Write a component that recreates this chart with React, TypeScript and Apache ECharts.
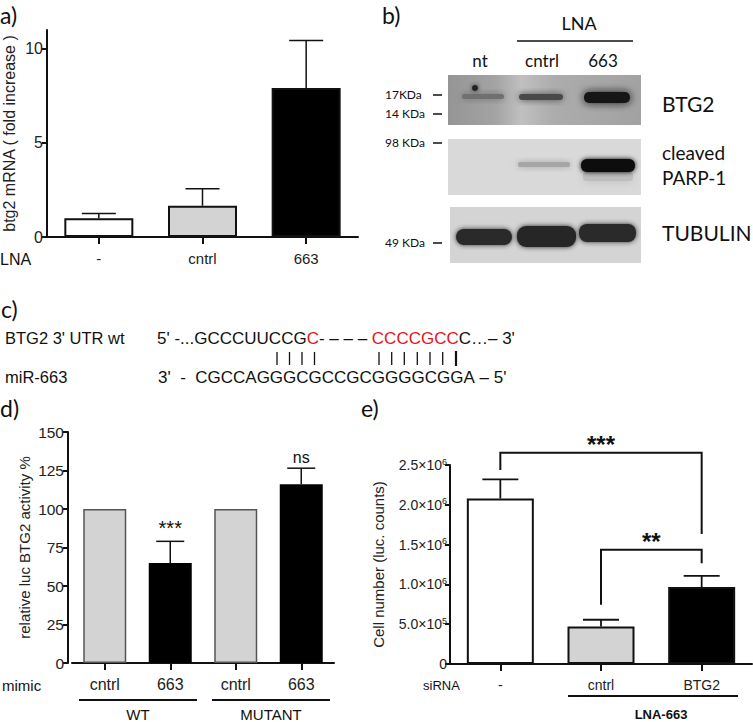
import React, { useEffect, useRef } from "react";
import * as echarts from "echarts";

// ---------- Panel a) ----------
const aCategories = ["-", "cntrl", "663"];
const aMeans = [1.0, 1.66, 7.92];
const aErrTop = [1.25, 2.56, 10.44];
const aYTicks = [0, 5, 10];

// ---------- Panel d) ----------
const dCategories = ["cntrl", "663", "cntrl", "663"];
const dMeans = [100, 65, 100, 116];
const dErrTop: (number | null)[] = [null, 79, null, 126.5];
const dSig = ["", "***", "", "ns"];
const dGroups = ["WT", "MUTANT"];

// ---------- Panel e) ----------
const eCategories = ["-", "cntrl", "BTG2"];
const eMeans = [2.08e6, 0.472e6, 0.966e6];
const eErrTop = [2.32e6, 0.556e6, 1.108e6];
// [fromIndex, toIndex, bracketTop, leftFoot, rightFoot]
const eBrackets = [
  [0, 2, 2.654e6, 2.437e6, 1.634e6],
  [1, 2, 1.434e6, 0.744e6, 1.267e6],
];
const eBracketLabels = ["***", "**"];

// ---------- Panel b) / c) texts ----------
const bLanes = ["nt", "cntrl", "663"];
const bMarkers = ["17KDa", "14 KDa", "98 KDa", "49 KDa"];
const bTargets = ["BTG2", "cleaved", "PARP-1", "TUBULIN"];
const cUtrLabel = "BTG2 3' UTR wt";
const cMirLabel = "miR-663";
const cUtrParts = ["5' -...GCCCUUCCG", "C", "- – – – ", "CCCCGCC", "C…– 3'"];
const cMirSeq = "3'\u00a0\u00a0-\u00a0\u00a0CGCCAGGGCGCCGCGGGGCGGA\u00a0–\u00a05'";

const PRISM = "Liberation Sans, Arial, sans-serif";
const CAL = "Lato, Open Sans, sans-serif";
const AX = "#111";

const aColors = ["#ffffff", "#d3d3d3", "#000000"];
const dColors = ["#d3d3d3", "#000000", "#d3d3d3", "#000000"];
const eColors = ["#ffffff", "#d3d3d3", "#000000"];

function errRender(tops: (number | null)[], capHalf: number, lw: number, sig?: string[], sigFont?: number[]) {
  return (params: any, api: any) => {
    const i = api.value(0);
    const t = tops[i];
    const children: any[] = [];
    if (t != null) {
      const p0 = api.coord([i, api.value(1)]);
      const p1 = api.coord([i, t]);
      children.push({ type: "line", shape: { x1: p0[0], y1: p0[1], x2: p1[0], y2: p1[1] }, style: { stroke: AX, lineWidth: lw } });
      children.push({ type: "line", shape: { x1: p1[0] - capHalf, y1: p1[1], x2: p1[0] + capHalf, y2: p1[1] }, style: { stroke: AX, lineWidth: lw } });
      if (sig && sig[i]) {
        children.push({
          type: "text",
          x: p1[0],
          y: p1[1] - 3,
          style: { text: sig[i], fontFamily: PRISM, fontSize: sigFont ? sigFont[i] : 15, fill: "#111", align: "center", verticalAlign: "bottom" },
        });
      }
    }
    return { type: "group", children };
  };
}

function eFmt(v: number) {
  if (v === 0) return "0";
  const ex = Math.floor(Math.log10(v) + 1e-9);
  const m = v / Math.pow(10, ex);
  return `{b|${m.toFixed(1)}×10}{s|${ex}}`;
}

export default function App() {
  const ref = useRef<HTMLDivElement>(null);
  useEffect(() => {
    if (!ref.current) return;
    const chart = echarts.init(ref.current, undefined, { renderer: "svg" });

    const yBase = (extra: any) => ({
      type: "value",
      splitLine: { show: false },
      axisLine: { show: true, lineStyle: { color: AX, width: 2 } },
      axisTick: { show: true, length: 5, lineStyle: { color: AX, width: 2 } },
      nameLocation: "middle",
      ...extra,
    });
    const xBase = (data: string[], fontSize: number, margin: number) => ({
      type: "category",
      data,
      axisLine: { show: true, lineStyle: { color: AX, width: 2 } },
      axisTick: { show: true, alignWithLabel: true, length: 7, lineStyle: { color: AX, width: 2 } },
      axisLabel: { fontFamily: PRISM, fontSize, color: "#222", margin },
    });

    const graphic: any[] = [];
    const txt = (text: string, x: number, y: number, fontSize: number, fontFamily: string, align = "left", extra: any = {}) =>
      graphic.push({ type: "text", x, y, style: { text, fontSize, fontFamily, fill: "#111", align, verticalAlign: "middle", ...extra } });
    const ln = (x1: number, y1: number, x2: number, y2: number, w = 2) =>
      graphic.push({ type: "line", shape: { x1, y1, x2, y2 }, style: { stroke: AX, lineWidth: w } });
    const band = (x: number, y: number, w: number, h: number, fill: string, blur: number, r = 6) =>
      graphic.push({ type: "rect", shape: { x, y, width: w, height: h, r }, style: { fill, shadowBlur: blur, shadowColor: fill } });

    // panel letters
    txt("a)", 0, 15, 23, CAL);
    txt("b)", 382, 15, 23, CAL);
    txt("c)", 1, 309, 23, CAL);
    txt("d)", 0, 408, 23, CAL);
    txt("e)", 361, 408, 23, CAL);

    // panel a extras
    txt("LNA", 0, 259, 16, PRISM);

    // panel b
    txt("LNA", 579, 23, 18, CAL, "center");
    ln(517, 41, 633, 41, 1.5);
    const laneX = [480, 542, 603];
    bLanes.forEach((l, i) => txt(l, laneX[i], 60, 17, CAL, "center"));
    const markerY = [94, 113, 142, 242];
    bMarkers.forEach((m, i) => {
      txt(m, 385, markerY[i], 12, CAL);
      ln(433, markerY[i] + 1, 442, markerY[i] + 1, 1.5);
    });
    txt(bTargets[0], 662, 103, 21, CAL);
    txt(bTargets[1], 662, 152, 19, CAL);
    txt(bTargets[2], 662, 177, 19, CAL);
    txt(bTargets[3], 662, 232, 21, CAL);

    // blot 1
    graphic.push({
      type: "rect",
      shape: { x: 448, y: 75, width: 193, height: 50 },
      style: {
        fill: {
          type: "linear", x: 0, y: 0, x2: 1, y2: 0,
          colorStops: [
            { offset: 0, color: "#959595" },
            { offset: 0.25, color: "#a4a4a4" },
            { offset: 0.38, color: "#c0c0c0" },
            { offset: 0.55, color: "#acacac" },
            { offset: 1, color: "#a2a2a2" },
          ],
        },
      },
    });
    band(462, 94, 42, 5, "#707070", 7, 3);
    graphic.push({ type: "circle", shape: { cx: 475, cy: 88, r: 3 }, style: { fill: "#222", shadowBlur: 4, shadowColor: "#222" } });
    band(519, 94, 44, 6, "#4a4a4a", 7, 3);
    band(584, 92, 46, 11, "#151515", 8, 5);
    // blot 2
    graphic.push({ type: "rect", shape: { x: 448, y: 139, width: 193, height: 56 }, style: { fill: "#d9d9d9" } });
    band(518, 162, 52, 5, "#a6a6a6", 7, 2);
    band(583, 172, 50, 9, "#bdbdbd", 9, 4);
    band(581, 159, 54, 13, "#080808", 5, 6);
    // blot 3
    graphic.push({ type: "rect", shape: { x: 450, y: 207, width: 191, height: 56 }, style: { fill: "#d4d4d4" } });
    band(456, 229, 56, 16, "#2a2a2a", 5, 8);
    band(517, 226, 59, 21, "#262626", 5, 9);
    band(579, 224, 57, 18, "#2a2a2a", 5, 8);

    // panel c
    txt(cUtrLabel, 5, 338, 16.5, PRISM);
    graphic.push({
      type: "text",
      x: 157,
      y: 338,
      style: {
        text: `{k|${cUtrParts[0]}}{r|${cUtrParts[1]}}{k|${cUtrParts[2]}}{r|${cUtrParts[3]}}{k|${cUtrParts[4]}}`,
        fontFamily: PRISM,
        fontSize: 17,
        verticalAlign: "middle",
        rich: {
          k: { fill: "#111", color: "#111", fontFamily: PRISM, fontSize: 17 },
          r: { fill: "#e8141c", color: "#e8141c", fontFamily: PRISM, fontSize: 17 },
        },
      },
    });
    [277, 289.5, 302, 314.5].forEach((x) => ln(x, 352, x, 365, 1.3));
    [379, 391.7, 404.3, 417.3, 430, 442.7].forEach((x) => ln(x, 352, x, 365, 1.3));
    ln(456, 351, 456, 366, 2.2);
    txt(cMirLabel, 5, 377, 16.5, PRISM);
    txt(cMirSeq, 158, 377, 17, PRISM);

    // panel d extras
    txt("mimic", 2, 685, 15, PRISM);
    ln(79, 700, 197, 700, 2);
    ln(212, 700, 330, 700, 2);
    txt(dGroups[0], 138, 714, 15, PRISM, "center");
    txt(dGroups[1], 271, 714, 15, PRISM, "center");

    // panel e extras
    txt("siRNA", 423, 685, 13, PRISM);
    ln(568, 696, 738, 696, 2);
    txt("LNA-663", 661, 714, 13, PRISM, "center", { fontWeight: "bold" });

    const option: any = {
      animation: false,
      backgroundColor: "#ffffff",
      grid: [
        { left: 47, top: 30, width: 311, height: 207 },
        { left: 72, top: 432, width: 262, height: 231 },
        { left: 450, top: 465, width: 302, height: 199 },
      ],
      xAxis: [
        { ...xBase(aCategories, 15, 14), gridIndex: 0 },
        { ...xBase(dCategories, 16, 13), gridIndex: 1 },
        { ...xBase(eCategories, 14, 14), gridIndex: 2 },
      ],
      yAxis: [
        yBase({
          gridIndex: 0,
          min: 0,
          max: 11,
          name: "btg2 mRNA ( fold increase )",
          nameGap: 30,
          nameTextStyle: { fontFamily: PRISM, fontSize: 16, color: "#222" },
          axisTick: { show: true, length: 5, lineStyle: { color: AX, width: 2 }, customValues: aYTicks },
          axisLabel: { fontFamily: PRISM, fontSize: 16, color: "#222", margin: 4, customValues: aYTicks },
        }),
        yBase({
          gridIndex: 1,
          min: 0,
          max: 150,
          interval: 25,
          offset: 4,
          name: "relative luc BTG2 activity %",
          nameGap: 36,
          nameTextStyle: { fontFamily: PRISM, fontSize: 15, color: "#222" },
          axisLabel: { fontFamily: PRISM, fontSize: 15.5, color: "#222", margin: 4 },
        }),
        yBase({
          gridIndex: 2,
          min: 0,
          max: 2.5e6,
          interval: 5e5,
          name: "Cell number (luc. counts)",
          nameGap: 64,
          nameTextStyle: { fontFamily: PRISM, fontSize: 15, color: "#222" },
          axisLabel: {
            fontFamily: PRISM,
            fontSize: 14,
            color: "#222",
            margin: 3,
            formatter: eFmt,
            rich: {
              b: { fontFamily: PRISM, fontSize: 14, color: "#222" },
              s: { fontFamily: PRISM, fontSize: 9, color: "#222", padding: [0, 0, 7, 0] },
            },
          },
        }),
      ],
      series: [
        {
          type: "bar",
          xAxisIndex: 0,
          yAxisIndex: 0,
          barWidth: 69,
          data: aMeans.map((v, i) => ({ value: v, itemStyle: { color: aColors[i], borderColor: AX, borderWidth: 2 } })),
        },
        {
          type: "custom",
          xAxisIndex: 0,
          yAxisIndex: 0,
          clip: false,
          renderItem: errRender(aErrTop, 17, 1.5),
          data: aMeans.map((v, i) => [i, v, aErrTop[i]]),
          z: 3,
        },
        {
          type: "bar",
          xAxisIndex: 1,
          yAxisIndex: 1,
          barWidth: 43,
          data: dMeans.map((v, i) => ({
            value: v,
            itemStyle: { color: dColors[i], borderColor: dColors[i] === "#000000" ? "#000" : "#555", borderWidth: 1.5 },
          })),
        },
        {
          type: "custom",
          xAxisIndex: 1,
          yAxisIndex: 1,
          clip: false,
          renderItem: errRender(dErrTop, 14, 1.5, dSig, [20, 20, 20, 16]),
          data: dMeans.map((v, i) => [i, v, dErrTop[i] ?? v]),
          z: 3,
        },
        {
          type: "bar",
          xAxisIndex: 2,
          yAxisIndex: 2,
          barWidth: 67,
          data: eMeans.map((v, i) => ({ value: v, itemStyle: { color: eColors[i], borderColor: AX, borderWidth: 2 } })),
        },
        {
          type: "custom",
          xAxisIndex: 2,
          yAxisIndex: 2,
          clip: false,
          renderItem: errRender(eErrTop, 18, 1.8),
          data: eMeans.map((v, i) => [i, v, eErrTop[i]]),
          z: 3,
        },
        {
          type: "custom",
          xAxisIndex: 2,
          yAxisIndex: 2,
          clip: false,
          renderItem: (params: any, api: any) => {
            const a = api.value(0), b = api.value(1);
            const top = api.value(2), lf = api.value(3), rf = api.value(4);
            const pTL = api.coord([a, top]);
            const pTR = api.coord([b, top]);
            const pL = api.coord([a, lf]);
            const pR = api.coord([b, rf]);
            const st = { stroke: AX, lineWidth: 2, fill: "none" };
            return {
              type: "group",
              children: [
                { type: "polyline", shape: { points: [pL, pTL, pTR, pR] }, style: st },
                {
                  type: "text",
                  x: (pTL[0] + pTR[0]) / 2,
                  y: pTL[1] + 4,
                  style: { text: eBracketLabels[params.dataIndex], fontFamily: PRISM, fontSize: 24, fontWeight: "bold", fill: "#111", align: "center", verticalAlign: "bottom" },
                },
              ],
            };
          },
          data: eBrackets,
          z: 4,
        },
      ],
      graphic: { elements: graphic },
    };
    chart.setOption(option);
    return () => chart.dispose();
  }, []);
  return <div ref={ref} style={{ position: "absolute", left: 0, top: 0, width: 753, height: 722 }} />;
}
